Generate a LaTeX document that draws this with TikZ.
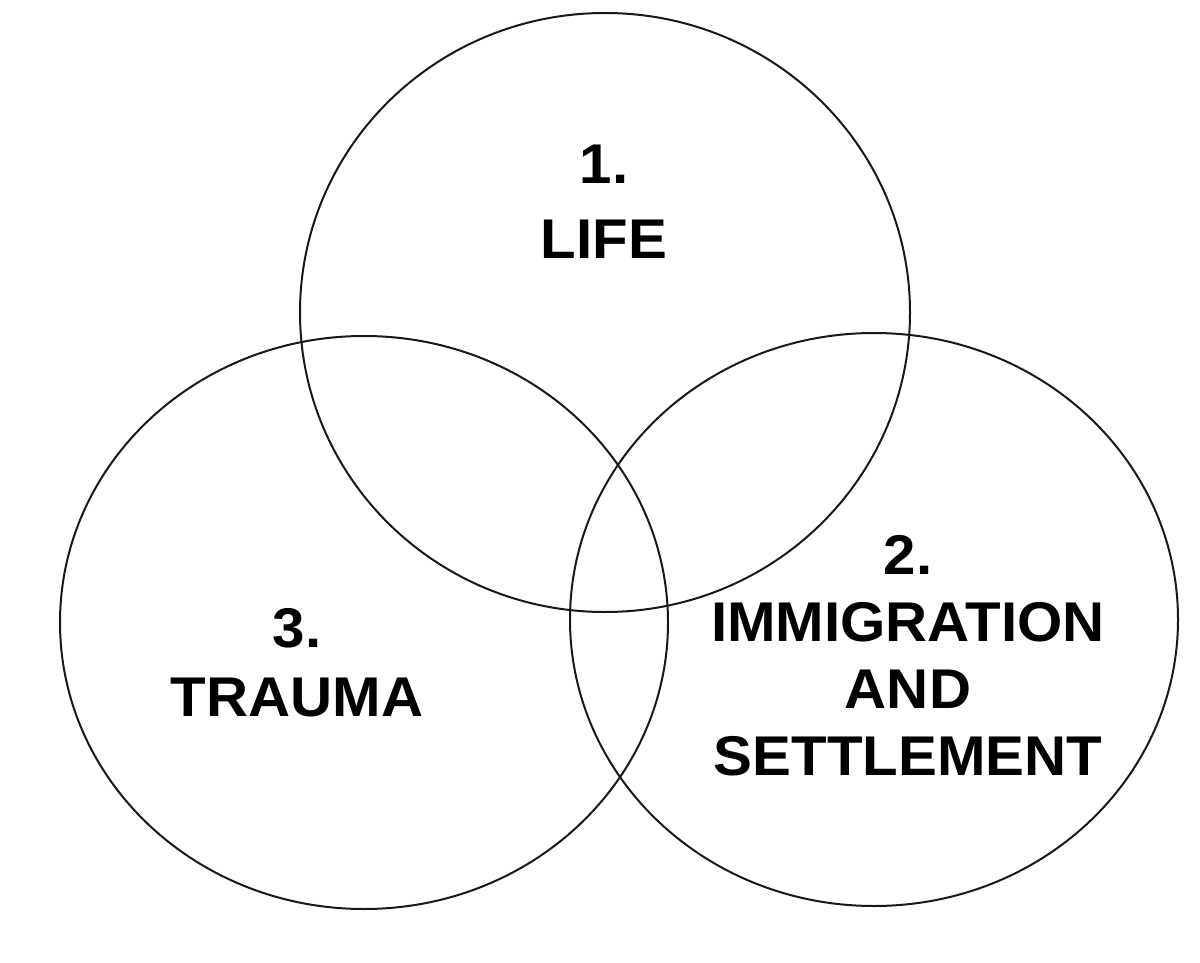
\documentclass[tikz,border=0pt]{standalone}
\usepackage{fontspec}
\setmainfont{Liberation Sans}[FakeStretch=1.04]
\begin{document}
\begin{tikzpicture}[x=1pt,y=-1pt,
  ring/.style={draw=black!90,line width=2pt},
  lbl/.style={align=center,inner sep=0pt,font=\bfseries\fontsize{56}{67}\selectfont}]
\useasboundingbox (0,0) rectangle (1200,963);
\fill[white] (0,0) rectangle (1200,963);
\coordinate (c1) at (605,312.5);
\coordinate (c2) at (874,619.5);
\coordinate (c3) at (364,622.5);
\draw[ring] (c1) ellipse[x radius=305pt,y radius=299.5pt];
\draw[ring] (c2) ellipse[x radius=304pt,y radius=286.5pt];
\draw[ring] (c3) ellipse[x radius=304pt,y radius=286.5pt];
\node[lbl] (t1) at (604,202) {1.\\[8pt]LIFE};
\node[lbl] (t2) at (908,656) {2.\\IMMIGRATION\\AND\\SETTLEMENT};
\node[lbl] (t3) at (297,662.5) {3.\\[2pt]TRAUMA};
\end{tikzpicture}
\end{document}
